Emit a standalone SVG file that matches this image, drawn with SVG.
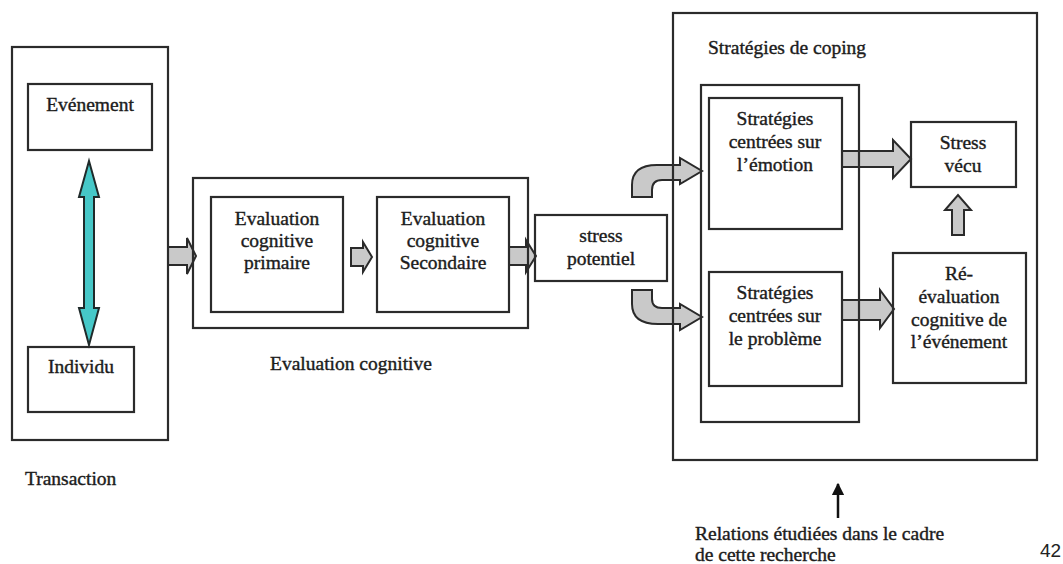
<svg xmlns="http://www.w3.org/2000/svg" width="1063" height="564" viewBox="0 0 1063 564">
  <style>
    .box { fill: none; stroke: #2b2b2b; stroke-width: 2.2; }
    .t { font-family: 'Liberation Serif', 'Times New Roman', Times, serif; font-size: 19.5px; fill: #1c1c1c; stroke: #1c1c1c; stroke-width: 0.4; }
    .c { text-anchor: middle; }
    .blk { fill: #c9c9c9; stroke: #2a2a2a; stroke-width: 2; stroke-linejoin: miter; }
    .dbl { fill: #46c8c8; stroke: #1f2a2a; stroke-width: 2; }
  </style>
  <defs>
    <marker id="headBlack" viewBox="0 0 10 10" refX="9" refY="5" markerWidth="5" markerHeight="5" orient="auto">
      <path d="M0 0 L10 5 L0 10 Z" fill="#111"/>
    </marker>
  </defs>
  <rect width="1063" height="564" fill="#ffffff"/>

  <!-- connectors -->
  <g id="connectors">
    <!-- two-way arrow between event and individual -->
    <path class="dbl" d="M89 161 L99 197 L94 197 L94 308 L99 308 L89 345 L79 308 L84 308 L84 197 L79 197 Z"/>
    <!-- transaction to appraisal -->
    <path class="blk" d="M168 247 L187 247 L187 238 L196 256 L187 274 L187 265 L168 265 Z"/>
    <!-- primary to secondary appraisal -->
    <path class="blk" d="M351 248 L363 248 L363 242 L372 257 L363 272 L363 266 L351 266 Z"/>
    <!-- secondary appraisal to potential stress -->
    <path class="blk" d="M509 247 L526 247 L526 240 L536 256 L526 272 L526 265 L509 265 Z"/>
    <!-- potential stress to emotion-focused coping -->
    <path class="blk" d="M632 197 L632 185 Q632 165 657 165 L680 165 L680 158 L702 171 L680 184 L680 180 L662 180 Q652 180 652 190 L652 197 Z"/>
    <!-- potential stress to problem-focused coping -->
    <path class="blk" d="M632 290 L652 290 L652 299 Q652 308 662 308 L680 308 L680 304 L702 317 L680 330 L680 324 L658 324 Q632 324 632 304 Z"/>
    <!-- emotion-focused coping to lived stress -->
    <path class="blk" d="M842 151 L893 151 L893 140 L911 159 L893 178 L893 167 L842 167 Z"/>
    <!-- problem-focused coping to reappraisal -->
    <path class="blk" d="M842 300 L880 300 L880 290 L894 309 L880 328 L880 320 L842 320 Z"/>
    <!-- reappraisal up to lived stress -->
    <path class="blk" d="M952 235 L952 210 L945 210 L958 195 L971 210 L964 210 L964 235 Z"/>
    <!-- studied relations pointer -->
    <line x1="838" y1="518" x2="838" y2="484" stroke="#111" stroke-width="2.5" marker-end="url(#headBlack)"/>
  </g>

  <!-- transaction -->
  <g id="transaction">
    <rect class="box" x="12" y="47" width="156" height="393"/>
    <text class="t" x="25" y="485">Transaction</text>
  </g>
  <g id="evenement">
    <rect class="box" x="28" y="84" width="124" height="66"/>
    <text class="t c" x="90" y="111">Evénement</text>
  </g>
  <g id="individu">
    <rect class="box" x="28" y="347" width="106" height="65"/>
    <text class="t c" x="81" y="373">Individu</text>
  </g>

  <!-- cognitive appraisal -->
  <g id="evaluation-cognitive">
    <rect class="box" x="193" y="178" width="335" height="150"/>
    <text class="t" x="270" y="370">Evaluation cognitive</text>
  </g>
  <g id="evaluation-primaire">
    <rect class="box" x="211" y="197" width="132" height="115"/>
    <text class="t c" x="277" y="225">Evaluation</text>
    <text class="t c" x="277" y="247">cognitive</text>
    <text class="t c" x="277" y="269">primaire</text>
  </g>
  <g id="evaluation-secondaire">
    <rect class="box" x="377" y="197" width="132" height="115"/>
    <text class="t c" x="443" y="225">Evaluation</text>
    <text class="t c" x="443" y="247">cognitive</text>
    <text class="t c" x="443" y="269">Secondaire</text>
  </g>

  <g id="stress-potentiel">
    <rect class="box" x="535" y="215" width="132" height="66"/>
    <text class="t c" x="601" y="242">stress</text>
    <text class="t c" x="601" y="265">potentiel</text>
  </g>

  <!-- coping -->
  <g id="strategies-coping">
    <rect class="box" x="673" y="13" width="364" height="447"/>
    <text class="t" x="708" y="54">Stratégies de coping</text>
  </g>
  <g id="strategies">
    <rect class="box" x="701" y="85" width="158" height="337"/>
  </g>
  <g id="strategies-emotion">
    <rect class="box" x="709" y="98" width="133" height="131"/>
    <text class="t c" x="775" y="125">Stratégies</text>
    <text class="t c" x="775" y="148">centrées sur</text>
    <text class="t c" x="775" y="171">l’émotion</text>
  </g>
  <g id="strategies-probleme">
    <rect class="box" x="709" y="272" width="133" height="114"/>
    <text class="t c" x="775" y="299">Stratégies</text>
    <text class="t c" x="775" y="322">centrées sur</text>
    <text class="t c" x="775" y="345">le problème</text>
  </g>
  <g id="stress-vecu">
    <rect class="box" x="911" y="122" width="105" height="65"/>
    <text class="t c" x="963" y="149">Stress</text>
    <text class="t c" x="963" y="172">vécu</text>
  </g>
  <g id="reevaluation">
    <rect class="box" x="893" y="253" width="133" height="130"/>
    <text class="t c" x="959" y="280">Ré-</text>
    <text class="t c" x="959" y="303">évaluation</text>
    <text class="t c" x="959" y="326">cognitive de</text>
    <text class="t c" x="959" y="348">l’événement</text>
  </g>

  <!-- notes -->
  <g id="relations">
    <text class="t" x="695" y="540">Relations étudiées dans le cadre</text>
    <text class="t" x="695" y="561">de cette recherche</text>
  </g>
  <text x="1040" y="557" font-family="'Liberation Sans', Arial, sans-serif" font-size="19" fill="#222">42</text>
</svg>
